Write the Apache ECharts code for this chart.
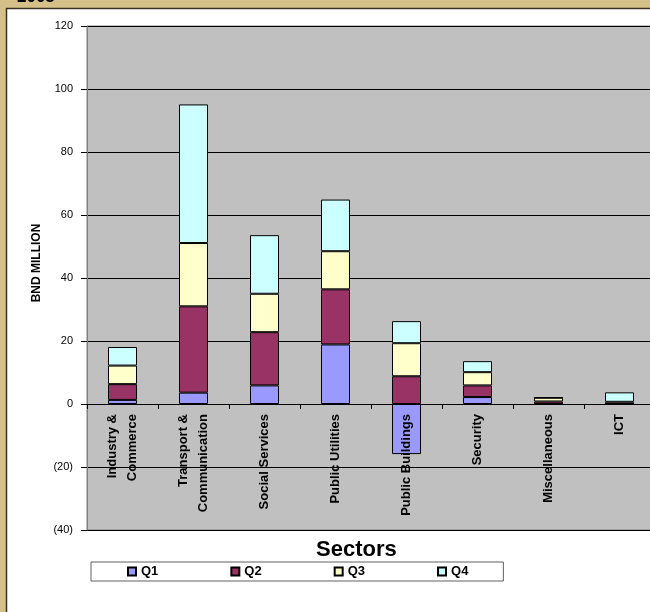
<!DOCTYPE html>
<html>
<head>
<meta charset="utf-8">
<title>2005</title>
<script src="https://cdn.jsdelivr.net/npm/echarts@6/dist/echarts.min.js"></script>
<style>
  html, body { margin: 0; padding: 0; background: #d4c088; }
  #chart { width: 650px; height: 612px; }
</style>
</head>
<body>
<div id="chart"></div>
<script>
// sectors and quarterly values (BND million)
var sectors = ['Industry &\nCommerce', 'Transport &\nCommunication', 'Social Services', 'Public Utilities',
               'Public Buildings', 'Security', 'Miscellaneous', 'ICT'];
var q1 = [1.3, 3.6, 5.9, 18.9, -15.9, 2.2, 0, 0];
var q2 = [5.0, 27.4, 16.9, 17.5, 8.8, 3.7, 0.8, 0];
var q3 = [5.9, 20.1, 12.2, 12.1, 10.5, 4.2, 1.2, 0.7];
var q4 = [5.9, 44.0, 18.6, 16.4, 7.0, 3.5, 0, 3.0];
var seriesNames = ['Q1', 'Q2', 'Q3', 'Q4'];
var seriesColors = ['#9999ff', '#993366', '#ffffcc', '#ccffff'];

var chart = echarts.init(document.getElementById('chart'));

function bar(i, data) {
    return {
        name: seriesNames[i],
        type: 'bar',
        stack: 'total',
        barWidth: 29,
        data: data,
        itemStyle: { color: seriesColors[i], borderColor: '#000', borderWidth: 1 }
    };
}

chart.setOption({
    animation: false,
    textStyle: { fontFamily: 'Liberation Sans, Arial, sans-serif' },
    graphic: [
        { type: 'rect', shape: { x: 6.5, y: 8.5, width: 700, height: 700 },
          style: { fill: '#fff', stroke: '#3a3020', lineWidth: 1.5 }, z: -10 },
        { type: 'text', left: 17, top: -11,
          style: { text: '2005', font: 'bold 17px Liberation Sans, Arial', fill: '#000' } },
        { type: 'text', left: 316, top: 539,
          style: { text: 'Sectors', font: 'bold 22px Liberation Sans, Arial', fill: '#000' } },
        { type: 'text', x: 37, y: 263, rotation: Math.PI / 2,
          style: { text: 'BND MILLION', font: 'bold 12px Liberation Sans, Arial', fill: '#000',
                   align: 'center', verticalAlign: 'middle' } }
    ],
    grid: {
        left: 87, top: 26, bottom: 82, right: -5,
        outerBoundsMode: 'none',
        show: true, backgroundColor: '#c0c0c0', borderColor: '#808080', borderWidth: 1
    },
    legend: {
        left: 91, top: 562,
        padding: [3, 35, 3, 36],
        itemGap: 72,
        itemWidth: 8, itemHeight: 8,
        icon: 'rect',
        backgroundColor: '#fff',
        borderColor: '#606060', borderWidth: 1,
        textStyle: { fontWeight: 'bold', fontSize: 13, color: '#000' },
        data: seriesNames
    },
    xAxis: {
        type: 'category',
        data: sectors,
        offset: -126,
        z: 5,
        axisLine: { onZero: false, lineStyle: { color: '#000', width: 1 } },
        axisTick: { show: true, length: 5, lineStyle: { color: '#000' } },
        axisLabel: { rotate: 90, margin: 10, fontSize: 13, fontWeight: 'bold', color: '#000', lineHeight: 20 }
    },
    yAxis: {
        type: 'value',
        min: -40, max: 120, interval: 20,
        axisLine: { show: true, lineStyle: { color: '#808080' } },
        axisTick: { show: true, length: 6, lineStyle: { color: '#000' } },
        axisLabel: {
            fontSize: 11, color: '#000', margin: 14,
            formatter: function (v) { return v < 0 ? '(' + (-v) + ')' : String(v); }
        },
        splitLine: { show: true, lineStyle: { color: '#000', width: 1 } }
    },
    series: [bar(0, q1), bar(1, q2), bar(2, q3), bar(3, q4)]
});
</script>
</body>
</html>
